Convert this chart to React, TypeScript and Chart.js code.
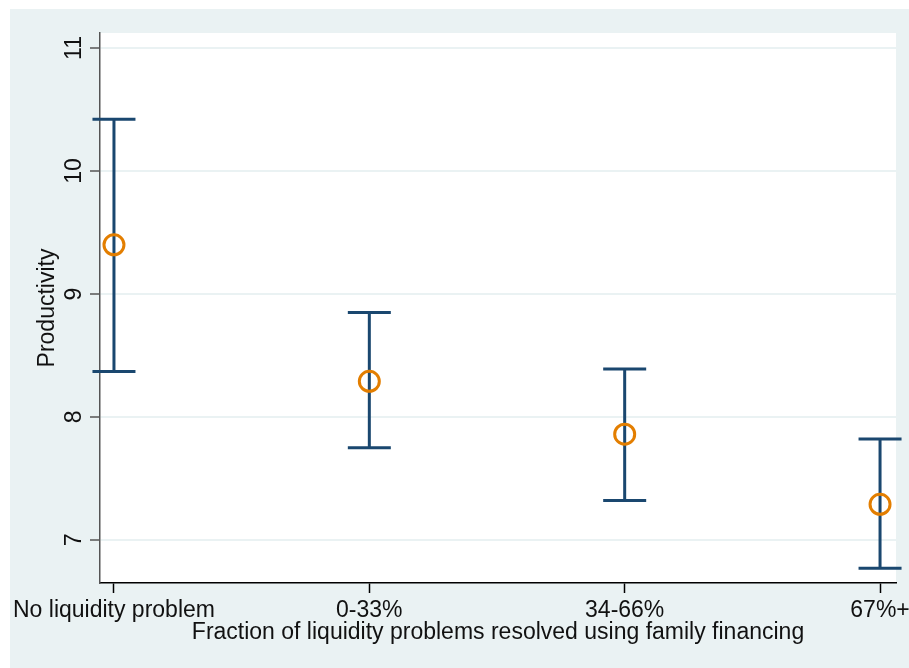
import React, { useEffect, useRef } from "react";
import { Chart, registerables } from "chart.js";

Chart.register(...registerables);

const categories = ["No liquidity problem", "0-33%", "34-66%", "67%+"];
const meanValues = [9.4, 8.29, 7.86, 7.29];
const upperValues = [10.42, 8.85, 8.39, 7.82];
const lowerValues = [8.37, 7.75, 7.32, 6.77];
const yTickValues = [7, 8, 9, 10, 11];
const xTickValues = [0, 1, 2, 3];
const yAxisTitle = "Productivity";
const xAxisTitle = "Fraction of liquidity problems resolved using family financing";

const FONT = '"Liberation Sans", Arial, Helvetica, sans-serif';
const FONT_SIZE = 23;
const BG = "#EAF2F3";
const NAVY = "#1A476F";
const ORANGE = "#E37E00";

const backgroundPlugin = {
  id: "stataBackground",
  beforeDraw(chart: any) {
    const { ctx, chartArea, width, height } = chart;
    ctx.save();
    ctx.fillStyle = "#FFFFFF";
    ctx.fillRect(0, 0, width, height);
    ctx.fillStyle = BG;
    ctx.fillRect(10, 9, width - 10, height - 9);
    ctx.fillStyle = "#FFFFFF";
    ctx.fillRect(chartArea.left, chartArea.top, chartArea.right - chartArea.left, chartArea.bottom - chartArea.top);
    ctx.restore();
  },
};

const errorBarPlugin = {
  id: "errorBars",
  beforeDatasetsDraw(chart: any) {
    const { ctx } = chart;
    const x = chart.scales.x;
    const y = chart.scales.y;
    ctx.save();
    ctx.strokeStyle = NAVY;
    ctx.lineWidth = 3;
    ctx.lineCap = "butt";
    categories.forEach((_, i) => {
      const px = x.getPixelForValue(xTickValues[i]);
      const top = y.getPixelForValue(upperValues[i]);
      const bot = y.getPixelForValue(lowerValues[i]);
      ctx.beginPath();
      ctx.moveTo(px, top);
      ctx.lineTo(px, bot);
      ctx.moveTo(px - 21.5, top);
      ctx.lineTo(px + 21.5, top);
      ctx.moveTo(px - 21.5, bot);
      ctx.lineTo(px + 21.5, bot);
      ctx.stroke();
    });
    ctx.restore();
  },
};

const yLabelPlugin = {
  id: "yRotatedLabels",
  afterDraw(chart: any) {
    const { ctx } = chart;
    const y = chart.scales.y;
    ctx.save();
    ctx.fillStyle = "#111111";
    ctx.font = `${FONT_SIZE}px ${FONT}`;
    ctx.textAlign = "center";
    ctx.textBaseline = "middle";
    yTickValues.forEach((v) => {
      const py = y.getPixelForValue(v);
      ctx.save();
      ctx.translate(75, py);
      ctx.rotate(-Math.PI / 2);
      ctx.fillText(String(v), 0, 0);
      ctx.restore();
    });
    ctx.restore();
  },
};

export default function App() {
  const ref = useRef<HTMLCanvasElement | null>(null);

  useEffect(() => {
    if (!ref.current) return;
    const chart = new Chart(ref.current, {
      type: "scatter",
      data: {
        datasets: [
          {
            data: meanValues.map((v, i) => ({ x: xTickValues[i], y: v })),
            pointStyle: "circle",
            pointRadius: 10,
            pointHoverRadius: 10,
            pointBorderWidth: 3,
            pointBorderColor: ORANGE,
            pointBackgroundColor: "rgba(0,0,0,0)",
            showLine: false,
            clip: false,
          } as any,
        ],
      },
      options: {
        responsive: false,
        animation: false,
        events: [],
        layout: { padding: { left: 10, top: 33, right: 11, bottom: 0 } },
        plugins: {
          legend: { display: false },
          tooltip: { enabled: false },
          title: { display: false },
        },
        scales: {
          x: {
            type: "linear",
            min: -0.0547,
            max: 3.0625,
            afterBuildTicks: (scale: any) => {
              scale.ticks = xTickValues.map((v) => ({ value: v }));
            },
            afterFit: (scale: any) => {
              scale.height = 85;
              scale.paddingLeft = 0;
              scale.paddingRight = 0;
              scale.paddingTop = 0;
              scale.paddingBottom = 0;
            },
            grid: {
              drawOnChartArea: false,
              drawTicks: true,
              tickLength: 10,
              tickColor: "#000000",
              tickWidth: 1.5,
            },
            border: { display: true, color: "#000000", width: 1.5 },
            ticks: {
              autoSkip: false,
              maxRotation: 0,
              minRotation: 0,
              padding: 4,
              color: "#111111",
              font: { family: FONT, size: FONT_SIZE },
              callback: (value: any) => categories[Math.round(Number(value))] ?? "",
            },
            title: {
              display: true,
              text: xAxisTitle,
              color: "#111111",
              font: { family: FONT, size: FONT_SIZE },
              padding: { top: 0, bottom: 22 },
            },
          },
          y: {
            type: "linear",
            min: 6.65,
            max: 11.122,
            afterBuildTicks: (scale: any) => {
              scale.ticks = yTickValues.map((v) => ({ value: v }));
            },
            afterFit: (scale: any) => {
              scale.width = 90;
              scale.paddingTop = 0;
              scale.paddingBottom = 0;
              scale.paddingLeft = 0;
              scale.paddingRight = 0;
            },
            grid: {
              color: BG,
              lineWidth: 2,
              drawTicks: true,
              tickLength: 10,
              tickColor: "#555555",
              tickWidth: 1.5,
            },
            border: { display: true, color: "#555555", width: 1.5 },
            ticks: { display: false },
            title: {
              display: true,
              text: yAxisTitle,
              color: "#111111",
              font: { family: FONT, size: FONT_SIZE },
              padding: { top: 24, bottom: 0 },
            },
          },
        },
      },
      plugins: [backgroundPlugin, errorBarPlugin, yLabelPlugin],
    });
    return () => chart.destroy();
  }, []);

  return (
    <div style={{ position: "fixed", left: 0, top: 0, width: 909, height: 668 }}>
      <canvas ref={ref} width={909} height={668} style={{ display: "block" }} />
    </div>
  );
}
